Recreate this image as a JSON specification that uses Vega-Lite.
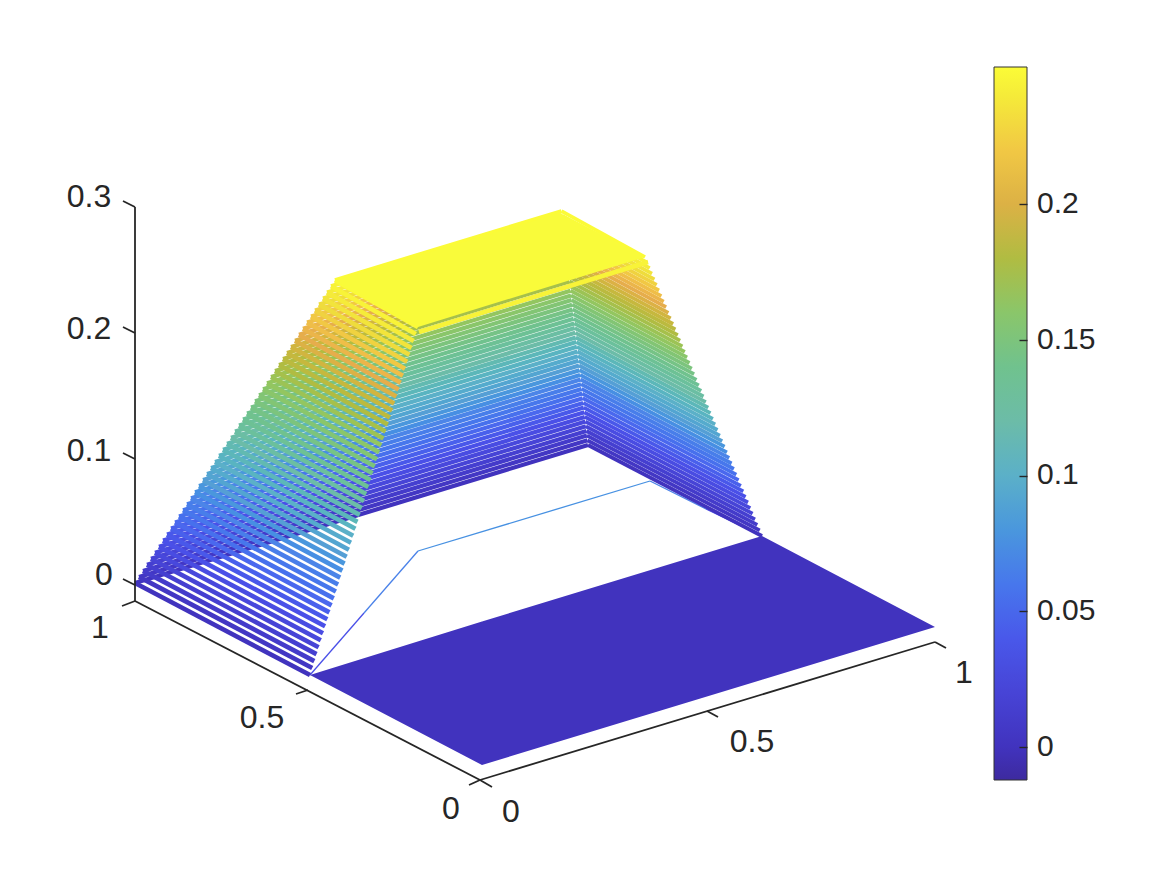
{"$schema":"https://vega.github.io/schema/vega-lite/v6.json","width":1168,"height":877,"padding":0,"autosize":"none","background":"white","view":{"stroke":null},
"config":{"font":"Liberation Sans"},
"datasets":{
"flat":[{"part":"floor","u":-172,"top":90,"bottom":90},{"part":"floor","u":0,"top":143.5,"bottom":0},{"part":"floor","u":280,"top":229,"bottom":85.3},{"part":"floor","u":453,"top":138,"bottom":138},
{"part":"plateau","u":-148,"top":484,"bottom":484},{"part":"plateau","u":-64,"top":509.3,"bottom":438},{"part":"plateau","u":78,"top":552,"bottom":481.8},{"part":"plateau","u":163,"top":508,"bottom":508}],
"rim":[{"line":"r1","z":0.035,"u":-172,"v":90},{"line":"r1","z":0.035,"u":-118,"v":152},{"line":"r2","z":0.068,"u":-118,"v":152},{"line":"r2","z":0.068,"u":-64,"v":214},{"line":"r3","z":0.076,"u":-64,"v":214},{"line":"r3","z":0.076,"u":168,"v":284},{"line":"r4","z":0.068,"u":168,"v":284},{"line":"r4","z":0.068,"u":224,"v":256},{"line":"r5","z":0.035,"u":224,"v":256},{"line":"r5","z":0.035,"u":280,"v":229}],
"walls":[
{"line":"b0","z":0,"u":-347,"v":182},{"line":"b0","z":0,"u":106,"v":320},
{"line":"b1","z":0.005,"u":-343,"v":188.1},{"line":"b1","z":0.005,"u":105.5,"v":324.7},
{"line":"b2","z":0.01,"u":-339,"v":194.1},{"line":"b2","z":0.01,"u":104.9,"v":329.4},
{"line":"b3","z":0.015,"u":-335,"v":200.2},{"line":"b3","z":0.015,"u":104.4,"v":334},
{"line":"b4","z":0.02,"u":-331,"v":206.2},{"line":"b4","z":0.02,"u":103.9,"v":338.7},
{"line":"b5","z":0.025,"u":-327,"v":212.3},{"line":"b5","z":0.025,"u":103.4,"v":343.4},
{"line":"b6","z":0.03,"u":-323,"v":218.3},{"line":"b6","z":0.03,"u":102.8,"v":348.1},
{"line":"b7","z":0.035,"u":-319,"v":224.4},{"line":"b7","z":0.035,"u":102.3,"v":352.7},
{"line":"b8","z":0.04,"u":-315,"v":230.4},{"line":"b8","z":0.04,"u":101.8,"v":357.4},
{"line":"b9","z":0.045,"u":-311,"v":236.5},{"line":"b9","z":0.045,"u":101.2,"v":362.1},
{"line":"b10","z":0.05,"u":-307,"v":242.6},{"line":"b10","z":0.05,"u":100.7,"v":366.8},
{"line":"b11","z":0.055,"u":-303,"v":248.6},{"line":"b11","z":0.055,"u":100.2,"v":371.4},
{"line":"b12","z":0.06,"u":-299,"v":254.7},{"line":"b12","z":0.06,"u":99.6,"v":376.1},
{"line":"b13","z":0.065,"u":-295,"v":260.7},{"line":"b13","z":0.065,"u":99.1,"v":380.8},
{"line":"b14","z":0.07,"u":-291,"v":266.8},{"line":"b14","z":0.07,"u":98.6,"v":385.5},
{"line":"b15","z":0.075,"u":-287,"v":272.8},{"line":"b15","z":0.075,"u":98.1,"v":390.1},
{"line":"b16","z":0.08,"u":-283,"v":278.9},{"line":"b16","z":0.08,"u":97.5,"v":394.8},
{"line":"b17","z":0.085,"u":-279,"v":284.9},{"line":"b17","z":0.085,"u":97,"v":399.5},
{"line":"b18","z":0.09,"u":-275,"v":291},{"line":"b18","z":0.09,"u":96.5,"v":404.2},
{"line":"b19","z":0.095,"u":-271,"v":297},{"line":"b19","z":0.095,"u":95.9,"v":408.8},
{"line":"b20","z":0.1,"u":-267,"v":303.1},{"line":"b20","z":0.1,"u":95.4,"v":413.5},
{"line":"b21","z":0.105,"u":-263,"v":309.2},{"line":"b21","z":0.105,"u":94.9,"v":418.2},
{"line":"b22","z":0.11,"u":-259,"v":315.2},{"line":"b22","z":0.11,"u":94.3,"v":422.9},
{"line":"b23","z":0.115,"u":-255,"v":321.3},{"line":"b23","z":0.115,"u":93.8,"v":427.5},
{"line":"b24","z":0.12,"u":-251,"v":327.3},{"line":"b24","z":0.12,"u":93.3,"v":432.2},
{"line":"b25","z":0.125,"u":-247,"v":333.4},{"line":"b25","z":0.125,"u":92.8,"v":436.9},
{"line":"b26","z":0.13,"u":-243,"v":339.4},{"line":"b26","z":0.13,"u":92.2,"v":441.6},
{"line":"b27","z":0.135,"u":-239,"v":345.5},{"line":"b27","z":0.135,"u":91.7,"v":446.2},
{"line":"b28","z":0.14,"u":-235,"v":351.5},{"line":"b28","z":0.14,"u":91.2,"v":450.9},
{"line":"b29","z":0.145,"u":-231,"v":357.6},{"line":"b29","z":0.145,"u":90.6,"v":455.6},
{"line":"b30","z":0.15,"u":-227,"v":363.7},{"line":"b30","z":0.15,"u":90.1,"v":460.3},
{"line":"b31","z":0.155,"u":-223,"v":369.7},{"line":"b31","z":0.155,"u":89.6,"v":464.9},
{"line":"b32","z":0.16,"u":-219,"v":375.8},{"line":"b32","z":0.16,"u":89,"v":469.6},
{"line":"b33","z":0.165,"u":-215,"v":381.8},{"line":"b33","z":0.165,"u":88.5,"v":474.3},
{"line":"b34","z":0.17,"u":-211,"v":387.9},{"line":"b34","z":0.17,"u":88,"v":479},
{"line":"b35","z":0.175,"u":-207,"v":393.9},{"line":"b35","z":0.175,"u":87.5,"v":483.6},
{"line":"b36","z":0.18,"u":-203,"v":400},{"line":"b36","z":0.18,"u":86.9,"v":488.3},
{"line":"b37","z":0.185,"u":-199,"v":406},{"line":"b37","z":0.185,"u":86.4,"v":493},
{"line":"b38","z":0.19,"u":-195,"v":412.1},{"line":"b38","z":0.19,"u":85.9,"v":497.7},
{"line":"b39","z":0.195,"u":-191,"v":418.1},{"line":"b39","z":0.195,"u":85.3,"v":502.3},
{"line":"b40","z":0.2,"u":-187,"v":424.2},{"line":"b40","z":0.2,"u":84.8,"v":507},
{"line":"b41","z":0.205,"u":-183,"v":430.3},{"line":"b41","z":0.205,"u":84.3,"v":511.7},
{"line":"b42","z":0.21,"u":-179,"v":436.3},{"line":"b42","z":0.21,"u":83.7,"v":516.4},
{"line":"b43","z":0.215,"u":-175,"v":442.4},{"line":"b43","z":0.215,"u":83.2,"v":521},
{"line":"b44","z":0.22,"u":-171,"v":448.4},{"line":"b44","z":0.22,"u":82.7,"v":525.7},
{"line":"b45","z":0.225,"u":-167,"v":454.5},{"line":"b45","z":0.225,"u":82.2,"v":530.4},
{"line":"b46","z":0.23,"u":-163,"v":460.5},{"line":"b46","z":0.23,"u":81.6,"v":535.1},
{"line":"b47","z":0.235,"u":-159,"v":466.6},{"line":"b47","z":0.235,"u":81.1,"v":539.7},
{"line":"b48","z":0.24,"u":-155,"v":472.6},{"line":"b48","z":0.24,"u":80.6,"v":544.4},
{"line":"b49","z":0.245,"u":-151,"v":478.7},{"line":"b49","z":0.245,"u":80,"v":549.1},
{"line":"b50","z":0.25,"u":-147,"v":484.8},{"line":"b50","z":0.25,"u":79.5,"v":553.8},
{"line":"c0","z":0,"u":280,"v":229},{"line":"c0","z":0,"u":106,"v":320},
{"line":"c1","z":0.005,"u":277.7,"v":234.6},{"line":"c1","z":0.005,"u":105.5,"v":324.7},
{"line":"c2","z":0.01,"u":275.3,"v":240.2},{"line":"c2","z":0.01,"u":104.9,"v":329.4},
{"line":"c3","z":0.015,"u":273,"v":245.7},{"line":"c3","z":0.015,"u":104.4,"v":334},
{"line":"c4","z":0.02,"u":270.6,"v":251.3},{"line":"c4","z":0.02,"u":103.9,"v":338.7},
{"line":"c5","z":0.025,"u":268.3,"v":256.9},{"line":"c5","z":0.025,"u":103.4,"v":343.4},
{"line":"c6","z":0.03,"u":266,"v":262.5},{"line":"c6","z":0.03,"u":102.8,"v":348.1},
{"line":"c7","z":0.035,"u":263.6,"v":268.1},{"line":"c7","z":0.035,"u":102.3,"v":352.7},
{"line":"c8","z":0.04,"u":261.3,"v":273.6},{"line":"c8","z":0.04,"u":101.8,"v":357.4},
{"line":"c9","z":0.045,"u":258.9,"v":279.2},{"line":"c9","z":0.045,"u":101.2,"v":362.1},
{"line":"c10","z":0.05,"u":256.6,"v":284.8},{"line":"c10","z":0.05,"u":100.7,"v":366.8},
{"line":"c11","z":0.055,"u":254.3,"v":290.4},{"line":"c11","z":0.055,"u":100.2,"v":371.4},
{"line":"c12","z":0.06,"u":251.9,"v":296},{"line":"c12","z":0.06,"u":99.6,"v":376.1},
{"line":"c13","z":0.065,"u":249.6,"v":301.5},{"line":"c13","z":0.065,"u":99.1,"v":380.8},
{"line":"c14","z":0.07,"u":247.2,"v":307.1},{"line":"c14","z":0.07,"u":98.6,"v":385.5},
{"line":"c15","z":0.075,"u":244.9,"v":312.7},{"line":"c15","z":0.075,"u":98.1,"v":390.1},
{"line":"c16","z":0.08,"u":242.6,"v":318.3},{"line":"c16","z":0.08,"u":97.5,"v":394.8},
{"line":"c17","z":0.085,"u":240.2,"v":323.9},{"line":"c17","z":0.085,"u":97,"v":399.5},
{"line":"c18","z":0.09,"u":237.9,"v":329.4},{"line":"c18","z":0.09,"u":96.5,"v":404.2},
{"line":"c19","z":0.095,"u":235.5,"v":335},{"line":"c19","z":0.095,"u":95.9,"v":408.8},
{"line":"c20","z":0.1,"u":233.2,"v":340.6},{"line":"c20","z":0.1,"u":95.4,"v":413.5},
{"line":"c21","z":0.105,"u":230.9,"v":346.2},{"line":"c21","z":0.105,"u":94.9,"v":418.2},
{"line":"c22","z":0.11,"u":228.5,"v":351.8},{"line":"c22","z":0.11,"u":94.3,"v":422.9},
{"line":"c23","z":0.115,"u":226.2,"v":357.3},{"line":"c23","z":0.115,"u":93.8,"v":427.5},
{"line":"c24","z":0.12,"u":223.8,"v":362.9},{"line":"c24","z":0.12,"u":93.3,"v":432.2},
{"line":"c25","z":0.125,"u":221.5,"v":368.5},{"line":"c25","z":0.125,"u":92.8,"v":436.9},
{"line":"c26","z":0.13,"u":219.2,"v":374.1},{"line":"c26","z":0.13,"u":92.2,"v":441.6},
{"line":"c27","z":0.135,"u":216.8,"v":379.7},{"line":"c27","z":0.135,"u":91.7,"v":446.2},
{"line":"c28","z":0.14,"u":214.5,"v":385.2},{"line":"c28","z":0.14,"u":91.2,"v":450.9},
{"line":"c29","z":0.145,"u":212.1,"v":390.8},{"line":"c29","z":0.145,"u":90.6,"v":455.6},
{"line":"c30","z":0.15,"u":209.8,"v":396.4},{"line":"c30","z":0.15,"u":90.1,"v":460.3},
{"line":"c31","z":0.155,"u":207.5,"v":402},{"line":"c31","z":0.155,"u":89.6,"v":464.9},
{"line":"c32","z":0.16,"u":205.1,"v":407.6},{"line":"c32","z":0.16,"u":89,"v":469.6},
{"line":"c33","z":0.165,"u":202.8,"v":413.1},{"line":"c33","z":0.165,"u":88.5,"v":474.3},
{"line":"c34","z":0.17,"u":200.4,"v":418.7},{"line":"c34","z":0.17,"u":88,"v":479},
{"line":"c35","z":0.175,"u":198.1,"v":424.3},{"line":"c35","z":0.175,"u":87.5,"v":483.6},
{"line":"c36","z":0.18,"u":195.8,"v":429.9},{"line":"c36","z":0.18,"u":86.9,"v":488.3},
{"line":"c37","z":0.185,"u":193.4,"v":435.5},{"line":"c37","z":0.185,"u":86.4,"v":493},
{"line":"c38","z":0.19,"u":191.1,"v":441},{"line":"c38","z":0.19,"u":85.9,"v":497.7},
{"line":"c39","z":0.195,"u":188.7,"v":446.6},{"line":"c39","z":0.195,"u":85.3,"v":502.3},
{"line":"c40","z":0.2,"u":186.4,"v":452.2},{"line":"c40","z":0.2,"u":84.8,"v":507},
{"line":"c41","z":0.205,"u":184.1,"v":457.8},{"line":"c41","z":0.205,"u":84.3,"v":511.7},
{"line":"c42","z":0.21,"u":181.7,"v":463.4},{"line":"c42","z":0.21,"u":83.7,"v":516.4},
{"line":"c43","z":0.215,"u":179.4,"v":468.9},{"line":"c43","z":0.215,"u":83.2,"v":521},
{"line":"c44","z":0.22,"u":177,"v":474.5},{"line":"c44","z":0.22,"u":82.7,"v":525.7},
{"line":"c45","z":0.225,"u":174.7,"v":480.1},{"line":"c45","z":0.225,"u":82.2,"v":530.4},
{"line":"c46","z":0.23,"u":172.4,"v":485.7},{"line":"c46","z":0.23,"u":81.6,"v":535.1},
{"line":"c47","z":0.235,"u":170,"v":491.3},{"line":"c47","z":0.235,"u":81.1,"v":539.7},
{"line":"c48","z":0.24,"u":167.7,"v":496.8},{"line":"c48","z":0.24,"u":80.6,"v":544.4},
{"line":"c49","z":0.245,"u":165.3,"v":502.4},{"line":"c49","z":0.245,"u":80,"v":549.1},
{"line":"c50","z":0.25,"u":163,"v":508},{"line":"c50","z":0.25,"u":79.5,"v":553.8},
{"line":"a0","z":0,"u":-172,"v":90},{"line":"a0","z":0,"u":-347,"v":182},
{"line":"a1","z":0.005,"u":-169.8,"v":97},{"line":"a1","z":0.005,"u":-343,"v":188.1},
{"line":"a2","z":0.01,"u":-167.7,"v":103.9},{"line":"a2","z":0.01,"u":-339,"v":194.1},
{"line":"a3","z":0.015,"u":-165.5,"v":110.9},{"line":"a3","z":0.015,"u":-335,"v":200.2},
{"line":"a4","z":0.02,"u":-163.4,"v":117.8},{"line":"a4","z":0.02,"u":-331,"v":206.2},
{"line":"a5","z":0.025,"u":-161.2,"v":124.8},{"line":"a5","z":0.025,"u":-327,"v":212.3},
{"line":"a6","z":0.03,"u":-159,"v":131.8},{"line":"a6","z":0.03,"u":-323,"v":218.3},
{"line":"a7","z":0.035,"u":-156.9,"v":138.7},{"line":"a7","z":0.035,"u":-319,"v":224.4},
{"line":"a8","z":0.04,"u":-154.7,"v":145.7},{"line":"a8","z":0.04,"u":-315,"v":230.4},
{"line":"a9","z":0.045,"u":-152.6,"v":152.6},{"line":"a9","z":0.045,"u":-311,"v":236.5},
{"line":"a10","z":0.05,"u":-150.4,"v":159.6},{"line":"a10","z":0.05,"u":-307,"v":242.6},
{"line":"a11","z":0.055,"u":-148.2,"v":166.6},{"line":"a11","z":0.055,"u":-303,"v":248.6},
{"line":"a12","z":0.06,"u":-146.1,"v":173.5},{"line":"a12","z":0.06,"u":-299,"v":254.7},
{"line":"a13","z":0.065,"u":-143.9,"v":180.5},{"line":"a13","z":0.065,"u":-295,"v":260.7},
{"line":"a14","z":0.07,"u":-141.8,"v":187.4},{"line":"a14","z":0.07,"u":-291,"v":266.8},
{"line":"a15","z":0.075,"u":-139.6,"v":194.4},{"line":"a15","z":0.075,"u":-287,"v":272.8},
{"line":"a16","z":0.08,"u":-137.4,"v":201.4},{"line":"a16","z":0.08,"u":-283,"v":278.9},
{"line":"a17","z":0.085,"u":-135.3,"v":208.3},{"line":"a17","z":0.085,"u":-279,"v":284.9},
{"line":"a18","z":0.09,"u":-133.1,"v":215.3},{"line":"a18","z":0.09,"u":-275,"v":291},
{"line":"a19","z":0.095,"u":-131,"v":222.2},{"line":"a19","z":0.095,"u":-271,"v":297},
{"line":"a20","z":0.1,"u":-128.8,"v":229.2},{"line":"a20","z":0.1,"u":-267,"v":303.1},
{"line":"a21","z":0.105,"u":-126.6,"v":236.2},{"line":"a21","z":0.105,"u":-263,"v":309.2},
{"line":"a22","z":0.11,"u":-124.5,"v":243.1},{"line":"a22","z":0.11,"u":-259,"v":315.2},
{"line":"a23","z":0.115,"u":-122.3,"v":250.1},{"line":"a23","z":0.115,"u":-255,"v":321.3},
{"line":"a24","z":0.12,"u":-120.2,"v":257},{"line":"a24","z":0.12,"u":-251,"v":327.3},
{"line":"a25","z":0.125,"u":-118,"v":264},{"line":"a25","z":0.125,"u":-247,"v":333.4},
{"line":"a26","z":0.13,"u":-115.8,"v":271},{"line":"a26","z":0.13,"u":-243,"v":339.4},
{"line":"a27","z":0.135,"u":-113.7,"v":277.9},{"line":"a27","z":0.135,"u":-239,"v":345.5},
{"line":"a28","z":0.14,"u":-111.5,"v":284.9},{"line":"a28","z":0.14,"u":-235,"v":351.5},
{"line":"a29","z":0.145,"u":-109.4,"v":291.8},{"line":"a29","z":0.145,"u":-231,"v":357.6},
{"line":"a30","z":0.15,"u":-107.2,"v":298.8},{"line":"a30","z":0.15,"u":-227,"v":363.7},
{"line":"a31","z":0.155,"u":-105,"v":305.8},{"line":"a31","z":0.155,"u":-223,"v":369.7},
{"line":"a32","z":0.16,"u":-102.9,"v":312.7},{"line":"a32","z":0.16,"u":-219,"v":375.8},
{"line":"a33","z":0.165,"u":-100.7,"v":319.7},{"line":"a33","z":0.165,"u":-215,"v":381.8},
{"line":"a34","z":0.17,"u":-98.6,"v":326.6},{"line":"a34","z":0.17,"u":-211,"v":387.9},
{"line":"a35","z":0.175,"u":-96.4,"v":333.6},{"line":"a35","z":0.175,"u":-207,"v":393.9},
{"line":"a36","z":0.18,"u":-94.2,"v":340.6},{"line":"a36","z":0.18,"u":-203,"v":400},
{"line":"a37","z":0.185,"u":-92.1,"v":347.5},{"line":"a37","z":0.185,"u":-199,"v":406},
{"line":"a38","z":0.19,"u":-89.9,"v":354.5},{"line":"a38","z":0.19,"u":-195,"v":412.1},
{"line":"a39","z":0.195,"u":-87.8,"v":361.4},{"line":"a39","z":0.195,"u":-191,"v":418.1},
{"line":"a40","z":0.2,"u":-85.6,"v":368.4},{"line":"a40","z":0.2,"u":-187,"v":424.2},
{"line":"a41","z":0.205,"u":-83.4,"v":375.4},{"line":"a41","z":0.205,"u":-183,"v":430.3},
{"line":"a42","z":0.21,"u":-81.3,"v":382.3},{"line":"a42","z":0.21,"u":-179,"v":436.3},
{"line":"a43","z":0.215,"u":-79.1,"v":389.3},{"line":"a43","z":0.215,"u":-175,"v":442.4},
{"line":"a44","z":0.22,"u":-77,"v":396.2},{"line":"a44","z":0.22,"u":-171,"v":448.4},
{"line":"a45","z":0.225,"u":-74.8,"v":403.2},{"line":"a45","z":0.225,"u":-167,"v":454.5},
{"line":"a46","z":0.23,"u":-72.6,"v":410.2},{"line":"a46","z":0.23,"u":-163,"v":460.5},
{"line":"a47","z":0.235,"u":-70.5,"v":417.1},{"line":"a47","z":0.235,"u":-159,"v":466.6},
{"line":"a48","z":0.24,"u":-68.3,"v":424.1},{"line":"a48","z":0.24,"u":-155,"v":472.6},
{"line":"a49","z":0.245,"u":-66.2,"v":431},{"line":"a49","z":0.245,"u":-151,"v":478.7},
{"line":"a50","z":0.25,"u":-64,"v":438},{"line":"a50","z":0.25,"u":-147,"v":484.8},
{"line":"e1","z":0.245,"u":-63,"v":433},{"line":"e1","z":0.245,"u":166,"v":503}],
"frame":[
{"line":"ay","u":-347,"v":164},{"line":"ay","u":-2,"v":-15},
{"line":"ax","u":-2,"v":-15},{"line":"ax","u":453,"v":123},
{"line":"az","u":-347,"v":164},{"line":"az","u":-347,"v":558},
{"line":"tx0","u":-2,"v":-15},{"line":"tx0","u":10,"v":-22},
{"line":"tx5","u":225,"v":54},{"line":"tx5","u":236,"v":48},
{"line":"tx1","u":453,"v":123},{"line":"tx1","u":464,"v":117},
{"line":"ty0","u":-2,"v":-15},{"line":"ty0","u":-13,"v":-20},
{"line":"ty5","u":-174,"v":75},{"line":"ty5","u":-186,"v":71},
{"line":"ty1","u":-347,"v":164},{"line":"ty1","u":-360,"v":159},
{"line":"tz0","u":-347,"v":180},{"line":"tz0","u":-359,"v":186},
{"line":"tz1","u":-347,"v":306},{"line":"tz1","u":-359,"v":312},
{"line":"tz2","u":-347,"v":432},{"line":"tz2","u":-359,"v":438},
{"line":"tz3","u":-347,"v":558},{"line":"tz3","u":-359,"v":564}],
"labels":[{"t":"0.3","u":-393,"v":568},{"t":"0.2","u":-393,"v":436},{"t":"0.1","u":-393,"v":314},{"t":"0","u":-378,"v":190},{"t":"1","u":-382,"v":137},{"t":"0.5","u":-220,"v":47},{"t":"0","u":-31,"v":-44},{"t":"0","u":29,"v":-47},{"t":"0.5","u":270,"v":23},{"t":"1","u":482,"v":92}]
},
"encoding":{"x":{"field":"u","type":"quantitative","scale":{"domain":[-482,686],"nice":false,"zero":false},"axis":null},"y":{"field":"v","type":"quantitative","scale":{"domain":[-112,765],"nice":false,"zero":false},"axis":{"orient":"right","offset":-149,"domain":false,"labels":false,"grid":false,"title":null,"ticks":true,"tickSize":8,"tickColor":"#262626","tickWidth":1.4,"values":[18,154,289,425,561],"zindex":1}}},
"layer":[
{"data":{"name":"flat"},"transform":[{"filter":"datum.part==='floor'"}],"mark":{"type":"area","fill":"#4133BE","stroke":null},"encoding":{"y":{"field":"top","type":"quantitative","scale":{"domain":[-112,765],"nice":false,"zero":false},"axis":{"orient":"right","offset":-149,"domain":false,"labels":false,"grid":false,"title":null,"ticks":true,"tickSize":8,"tickColor":"#262626","tickWidth":1.4,"values":[18,154,289,425,561],"zindex":1}},"y2":{"field":"bottom"}}},
{"data":{"name":"rim"},"mark":{"type":"line","strokeWidth":1.3},"encoding":{"detail":{"field":"line"},"color":{"field":"z","type":"quantitative"}}},
{"data":{"name":"walls"},"transform":[{"filter":"datum.line[0]==='b'"}],"mark":{"type":"line","strokeWidth":4.2},"encoding":{"detail":{"field":"line"},"color":{"field":"z","type":"quantitative"}}},
{"data":{"name":"walls"},"transform":[{"filter":"datum.line[0]==='c'"}],"mark":{"type":"line","strokeWidth":3.7},"encoding":{"detail":{"field":"line"},"color":{"field":"z","type":"quantitative"}}},
{"data":{"name":"walls"},"transform":[{"filter":"datum.line[0]==='a'||datum.line[0]==='e'"}],"mark":{"type":"line","strokeWidth":4.6},"encoding":{"detail":{"field":"line"},"color":{"field":"z","type":"quantitative","scale":{"domain":[-0.0122,0,0.035,0.05,0.07,0.085,0.1,0.12,0.15,0.165,0.18,0.193,0.205,0.216,0.23,0.2505],"range":["#3D2A9F","#4133BE","#4A50E8","#4A68EE","#4C85E8","#559FD5","#5BB0C8","#6CBCA8","#7CC47D","#93C660","#B0BC42","#CCB63E","#E6AD4C","#F0C048","#EFDC3C","#FBFC37"]},"legend":{"type":"gradient","orient":"none","legendX":994,"legendY":67,"direction":"vertical","title":null,"gradientLength":713,"gradientThickness":33,"gradientStrokeColor":"#333333","gradientStrokeWidth":1,"values":[0,0.05,0.1,0.15,0.2],"format":"~g","labelFont":"Liberation Sans","labelFontSize":30,"labelColor":"#262626","labelOffset":10,"labelOverlap":false}}}},
{"data":{"name":"flat"},"transform":[{"filter":"datum.part==='plateau'"}],"mark":{"type":"area","fill":"#F9FB3A","stroke":null},"encoding":{"y":{"field":"top","type":"quantitative","scale":{"domain":[-112,765],"nice":false,"zero":false},"axis":{"orient":"right","offset":-149,"domain":false,"labels":false,"grid":false,"title":null,"ticks":true,"tickSize":8,"tickColor":"#262626","tickWidth":1.4,"values":[18,154,289,425,561],"zindex":1}},"y2":{"field":"bottom"}}},
{"data":{"name":"frame"},"mark":{"type":"line","stroke":"#262626","strokeWidth":1.8},"encoding":{"detail":{"field":"line"}}},
{"data":{"name":"labels"},"mark":{"type":"text","font":"Liberation Sans","fontSize":32,"fill":"#262626","align":"center","baseline":"middle"},"encoding":{"text":{"field":"t"}}}
]}
